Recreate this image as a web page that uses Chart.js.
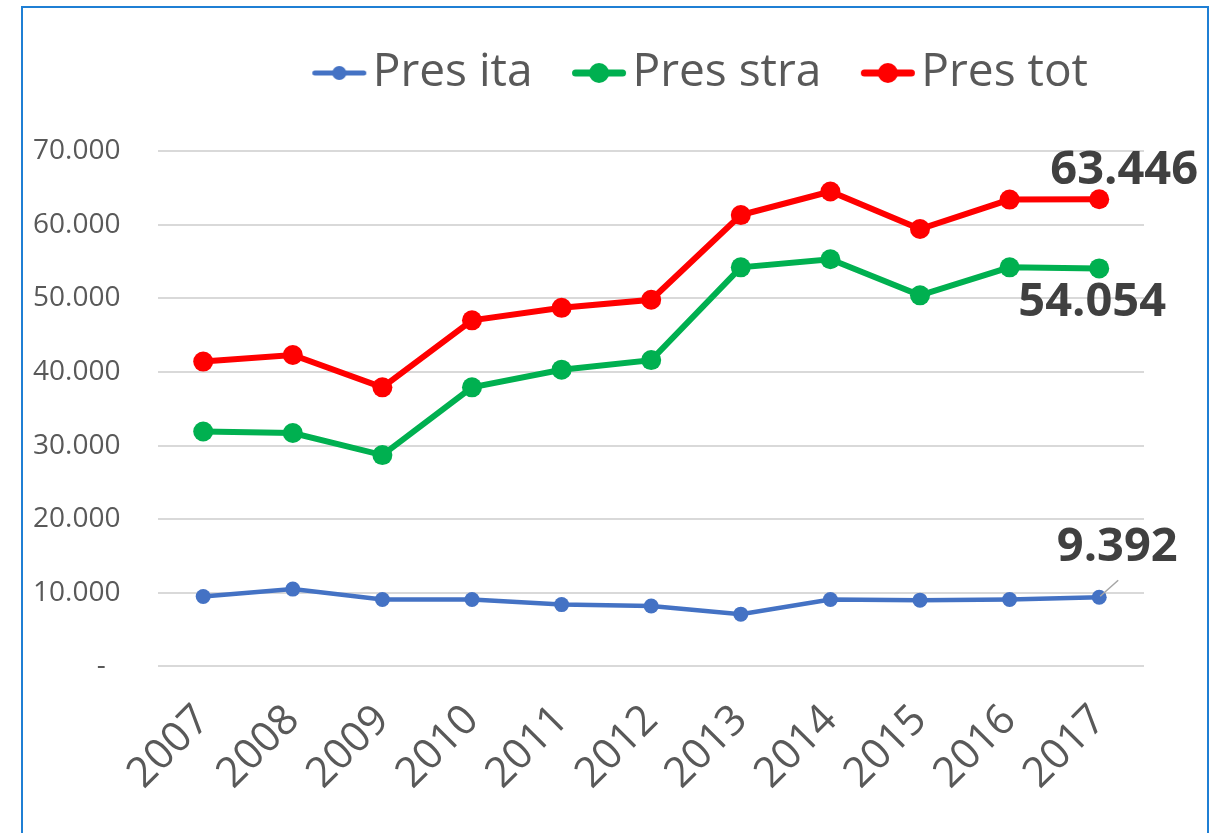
<!DOCTYPE html>
<html lang="it">
  <head>
    <meta charset="UTF-8" />
    <title>Presenze 2007-2017</title>
    <style>
      body {
        margin: 0;
        background: #ffffff;
        overflow: hidden;
      }

      .cornice {
        position: absolute;
        left: 21px;
        top: 6px;
        width: 1184px;
        height: 900px;
        border: 2px solid #1f7fd4;
      }

      #grafico {
        position: absolute;
        left: 0;
        top: 0;
      }
    </style>
  </head>
  <body>
    <div class="cornice"></div>
    <canvas id="grafico" width="1219" height="833"></canvas>

    <script src="https://cdn.jsdelivr.net/npm/chart.js"></script>
    <script>
      // Anni
      const anni = [
        "2007", "2008", "2009", "2010", "2011", "2012",
        "2013", "2014", "2015", "2016", "2017",
      ];

      // Presenze italiani
      const presIta = [9500, 10500, 9100, 9100, 8400, 8200, 7100, 9100, 9000, 9100, 9392];

      // Presenze stranieri
      const presStra = [31900, 31700, 28700, 37900, 40300, 41600, 54200, 55300, 50400, 54200, 54054];

      // Presenze totali
      const presTot = [41400, 42300, 37900, 47000, 48700, 49800, 61300, 64500, 59400, 63400, 63446];

      // Tacche asse y
      const tackeY = [0, 10000, 20000, 30000, 40000, 50000, 60000, 70000];

      function formatta(v) {
        if (v === 0) return "-  ";
        return String(Math.round(v)).replace(/\B(?=(\d{3})+(?!\d))/g, ".");
      }

      // simbolo legenda: linea con pallino
      function marcatore(colore, spessore, raggio) {
        const c = document.createElement("canvas");
        c.width = 56;
        c.height = 24;
        const g = c.getContext("2d");
        g.strokeStyle = colore;
        g.lineWidth = spessore;
        g.lineCap = "round";
        g.beginPath();
        g.moveTo(spessore / 2 + 1, 12);
        g.lineTo(55 - spessore / 2, 12);
        g.stroke();
        g.fillStyle = colore;
        g.beginPath();
        g.arc(28, 12, raggio, 0, Math.PI * 2);
        g.fill();
        return c;
      }

      const marcatori = [
        marcatore("#4472c4", 5, 7),
        marcatore("#00b050", 7, 10),
        marcatore("#ff0000", 7, 10),
      ];

      // spazio tra legenda e grafico
      const spazioLegenda = {
        id: "spazioLegenda",
        beforeInit(chart) {
          const fitOriginale = chart.legend.fit;
          chart.legend.fit = function () {
            fitOriginale.bind(chart.legend)();
            this.height += 45;
          };
        },
      };

      // etichette sull'ultimo punto
      const etichette = {
        id: "etichette",
        afterDatasetsDraw(chart, args, opts) {
          const ctx = chart.ctx;
          ctx.save();
          ctx.font = 'bold 47px "Open Sans"';
          ctx.fillStyle = "#404040";
          ctx.textAlign = "center";
          ctx.textBaseline = "middle";
          opts.voci.forEach((v) => {
            const meta = chart.getDatasetMeta(v.serie);
            const ultimo = meta.data.length - 1;
            const p = meta.data[ultimo];
            const valore = chart.data.datasets[v.serie].data[ultimo];
            if (v.guida) {
              ctx.strokeStyle = "#a6a6a6";
              ctx.lineWidth = 1.5;
              ctx.beginPath();
              ctx.moveTo(p.x + 1, p.y - 1);
              ctx.lineTo(p.x + 19, p.y - 17);
              ctx.stroke();
            }
            ctx.fillText(formatta(valore), p.x + v.dx, p.y + v.dy);
          });
          ctx.restore();
        },
      };

      Chart.defaults.font.family = '"Open Sans", sans-serif';
      Chart.defaults.color = "#595959";

      const ctx = document.getElementById("grafico").getContext("2d");
      new Chart(ctx, {
        type: "line",
        data: {
          labels: anni,
          datasets: [
            {
              label: "Pres ita",
              data: presIta,
              borderColor: "#4472c4",
              backgroundColor: "#4472c4",
              borderWidth: 4.5,
              pointRadius: 7.5,
              pointBorderWidth: 0,
            },
            {
              label: "Pres stra",
              data: presStra,
              borderColor: "#00b050",
              backgroundColor: "#00b050",
              borderWidth: 6,
              pointRadius: 10,
              pointBorderWidth: 0,
            },
            {
              label: "Pres tot",
              data: presTot,
              borderColor: "#ff0000",
              backgroundColor: "#ff0000",
              borderWidth: 6,
              pointRadius: 10,
              pointBorderWidth: 0,
            },
          ],
        },
        options: {
          responsive: false,
          animation: false,
          layout: { padding: { left: -5, right: 75, top: -6, bottom: 13 } },
          plugins: {
            tooltip: { enabled: false },
            legend: {
              position: "top",
              align: "end",
              labels: {
                font: { size: 46 },
                color: "#595959",
                usePointStyle: true,
                pointStyleWidth: 21,
                padding: 56,
                generateLabels: (chart) => {
                  const voci = Chart.defaults.plugins.legend.labels.generateLabels(chart);
                  voci.forEach((v, i) => (v.pointStyle = marcatori[i]));
                  return voci;
                },
              },
            },
            etichette: {
              voci: [
                { serie: 2, dx: 25, dy: -29 },
                { serie: 1, dx: -7, dy: 34 },
                { serie: 0, dx: 18, dy: -50, guida: true },
              ],
            },
          },
          scales: {
            x: {
              offset: true,
              grid: { display: false },
              border: { display: false },
              ticks: {
                font: { size: 42 },
                color: "#595959",
                maxRotation: 45,
                minRotation: 45,
                autoSkip: false,
                padding: 21,
              },
            },
            y: {
              min: 0,
              max: 70000,
              afterBuildTicks: (asse) => {
                asse.ticks = tackeY.map((v) => ({ value: v }));
              },
              grid: { color: "#d9d9d9", lineWidth: 2, drawTicks: false },
              border: { display: false },
              ticks: {
                font: { size: 28 },
                color: "#595959",
                padding: 38,
                callback: (v) => formatta(v),
              },
            },
          },
        },
        plugins: [spazioLegenda, etichette],
      });
    </script>
  </body>
</html>
